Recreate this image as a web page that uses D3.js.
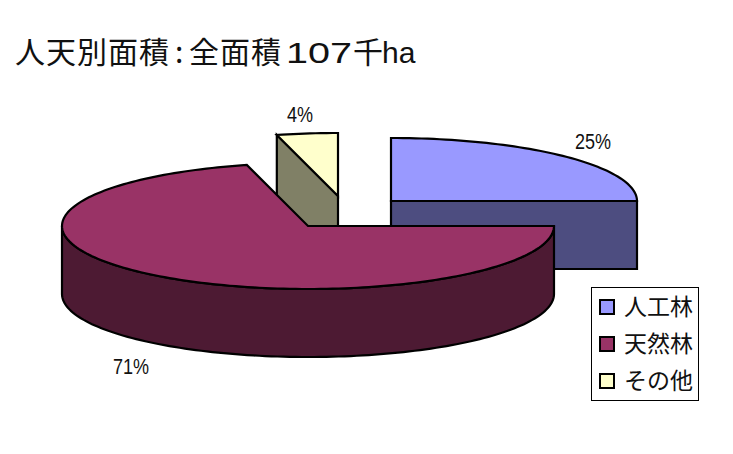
<!DOCTYPE html>
<html>
<head>
<meta charset="utf-8">
<script src="https://cdn.jsdelivr.net/npm/d3@7"></script>
<style>
  html, body { margin: 0; padding: 0; background: #fff; }
  svg { display: block; }
  text { fill: #111; font-family: "Noto Sans CJK JP", sans-serif; }
</style>
</head>
<body>
<div id="chart"></div>
<script>
const titleParts = ["人天別面積", ":", "全面積", "107", "千", "ha"];
const categories = ["人工林", "天然林", "その他"];
const shares = [25, 71, 4];
const shareLabels = ["25%", "71%", "4%"];
const topColors = ["#9999ff", "#993366", "#ffffcc"];
const sideColors = ["#4d4d80", "#4d1a33", "#808066"];

const width = 733, height = 454;
const rx = 246, ry = 63, depth = 68;
// pulled out slices have their own centre
const centres = [{x: 391, y: 201}, {x: 308, y: 226}, {x: 338, y: 196}];
const labelPos = [{x: 593, y: 149}, {x: 131, y: 374}, {x: 300, y: 122}];
const titleX = [15, 175, 189, 286, 353, 382];

const svg = d3.select("#chart").append("svg")
    .attr("width", width)
    .attr("height", height);

const slices = d3.pie().sort(null)(shares);

// point on the tilted rim, angle measured clockwise from north
function rim(c, a) {
    return [c.x + rx * Math.sin(a), c.y - ry * Math.cos(a)];
}

function arcPoints(c, a0, a1) {
    const n = Math.max(2, Math.ceil(Math.abs(a1 - a0) * 40));
    return d3.range(n + 1).map(i => rim(c, a0 + (a1 - a0) * i / n));
}

const line = d3.line();

function drawShape(points, fill) {
    svg.append("path")
        .attr("d", line(points) + "Z")
        .attr("fill", fill)
        .attr("stroke", "#000")
        .attr("stroke-width", 2.2)
        .attr("stroke-linejoin", "miter");
}

function dropped(points) {
    return points.map(p => [p[0], p[1] + depth]).reverse();
}

// back pieces first, the big slice sits in front of both
[0, 2, 1].forEach(i => {
    const s = slices[i], c = centres[i];
    const start = [c.x, c.y];
    const a0 = s.startAngle, a1 = s.endAngle;

    if (i === 0) {
        // cut face along the east edge
        const cut = [start, rim(c, a1)];
        drawShape(cut.concat(dropped(cut)), sideColors[i]);
    }
    if (i === 2) {
        // cut face going up to the left
        const cut = [rim(c, a0), start];
        drawShape(cut.concat(dropped(cut)), sideColors[i]);
    }
    if (i === 1) {
        // outer wall, only the front half of the rim shows
        const wall = arcPoints(c, Math.max(a0, Math.PI / 2), Math.min(a1, Math.PI * 1.5));
        drawShape(wall.concat(dropped(wall)), sideColors[i]);
    }
    drawShape([start].concat(arcPoints(c, a0, a1)), topColors[i]);
});

// percent labels, digits are tall and narrow in the original
svg.selectAll("text.share")
    .data(shareLabels)
    .enter()
    .append("text")
    .attr("class", "share")
    .attr("transform", (d, i) => `translate(${labelPos[i].x},${labelPos[i].y}) scale(0.82,1)`)
    .attr("text-anchor", "middle")
    .attr("font-size", 22)
    .style("font-family", "'Liberation Sans', sans-serif")
    .text(d => d);

// title, latin pieces use a wider face
const titleLatin = /^[0-9a-z]+$/;
svg.selectAll("text.title")
    .data(titleParts)
    .enter()
    .append("text")
    .attr("class", "title")
    .attr("x", (d, i) => titleX[i])
    .attr("y", 63)
    .attr("font-size", 30)
    .attr("letter-spacing", d => titleLatin.test(d) ? null : 1)
    .attr("textLength", d => d === "107" ? 66 : null)
    .attr("lengthAdjust", "spacingAndGlyphs")
    .style("font-family", d => titleLatin.test(d) ? "'Liberation Sans', sans-serif" : null)
    .text(d => d);

// legend
svg.append("rect")
    .attr("x", 591.5)
    .attr("y", 287.5)
    .attr("width", 107)
    .attr("height", 113)
    .attr("fill", "#fff")
    .attr("stroke", "#000")
    .attr("stroke-width", 1);

const legendY = d3.scalePoint().domain(categories).range([307, 381]);

const legendRows = svg.selectAll("g.legend")
    .data(categories)
    .enter()
    .append("g")
    .attr("class", "legend")
    .attr("transform", d => `translate(0,${legendY(d)})`);

legendRows.append("rect")
    .attr("x", 600)
    .attr("y", -7)
    .attr("width", 14)
    .attr("height", 14)
    .attr("fill", (d, i) => topColors[i])
    .attr("stroke", "#000")
    .attr("stroke-width", 2);

legendRows.append("text")
    .attr("x", 624)
    .attr("y", 8)
    .attr("font-size", 23)
    .text(d => d);
</script>
</body>
</html>
